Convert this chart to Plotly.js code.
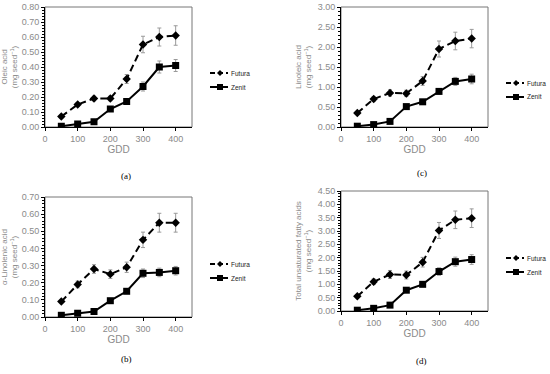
<!DOCTYPE html>
<html><head><meta charset="utf-8">
<script src="https://cdn.plot.ly/plotly-3.0.1.min.js"></script>
<style>html,body{margin:0;padding:0;background:#fff}#chart{width:550px;height:374px}</style>
</head><body><div id="chart"></div>
<script>
const gdd = [50, 100, 150, 200, 250, 300, 350, 400];
const xTicks = [0, 100, 200, 300, 400];

// (a) Oleic acid
const oleicFutura = [0.07, 0.15, 0.19, 0.19, 0.32, 0.55, 0.60, 0.61];
const oleicFuturaErr = [0.01, 0.012, 0.015, 0.015, 0.03, 0.055, 0.06, 0.065];
const oleicZenit = [0.005, 0.02, 0.035, 0.12, 0.17, 0.27, 0.40, 0.41];
const oleicZenitErr = [0.004, 0.005, 0.006, 0.01, 0.012, 0.03, 0.04, 0.04];

// (c) Linoleic acid
const linoleicFutura = [0.35, 0.70, 0.85, 0.84, 1.15, 1.95, 2.15, 2.21];
const linoleicFuturaErr = [0.03, 0.06, 0.08, 0.08, 0.11, 0.20, 0.22, 0.23];
const linoleicZenit = [0.02, 0.06, 0.14, 0.51, 0.63, 0.89, 1.14, 1.20];
const linoleicZenitErr = [0.01, 0.01, 0.02, 0.04, 0.05, 0.07, 0.10, 0.12];

// (b) alpha-Linolenic acid
const linolenicFutura = [0.09, 0.19, 0.28, 0.25, 0.29, 0.45, 0.55, 0.55];
const linolenicFuturaErr = [0.005, 0.02, 0.025, 0.025, 0.03, 0.045, 0.055, 0.055];
const linolenicZenit = [0.01, 0.022, 0.032, 0.095, 0.15, 0.255, 0.26, 0.27];
const linolenicZenitErr = [0.003, 0.005, 0.005, 0.008, 0.01, 0.025, 0.025, 0.025];

// (d) Total unsaturated fatty acids
const totalFutura = [0.55, 1.10, 1.37, 1.35, 1.83, 3.02, 3.42, 3.48];
const totalFuturaErr = [0.05, 0.10, 0.15, 0.15, 0.18, 0.30, 0.33, 0.35];
const totalZenit = [0.03, 0.10, 0.22, 0.78, 1.00, 1.48, 1.85, 1.93];
const totalZenitErr = [0.02, 0.02, 0.03, 0.06, 0.06, 0.14, 0.17, 0.18];

const seriesNames = ['Futura', 'Zenit'];
const panelLabels = ['(a)', '(c)', '(b)', '(d)'];
const yTitles = ['Oleic acid<br>(mg seed<sup>−1</sup>)', 'Linoleic acid<br>(mg seed<sup>−1</sup>)',
  'α-Linolenic acid<br>(mg seed<sup>−1</sup>)', 'Total unsaturated fatty acids<br>(mg seed<sup>−1</sup>)'];

const W = 550, H = 374;
const px = v => v / W, py = v => 1 - v / H;

// panel geometry in pixels: [left, right, top, bottom]
const panels = [
  {box: [45, 192, 7, 127], yr: [0, 0.8], dt: 0.1, mdt: 0.02, data: [oleicFutura, oleicFuturaErr, oleicZenit, oleicZenitErr],
   leg: [210, 73], lab: [126, 176]},
  {box: [341, 488, 7, 127], yr: [0, 3], dt: 0.5, mdt: 0.1, data: [linoleicFutura, linoleicFuturaErr, linoleicZenit, linoleicZenitErr],
   leg: [506, 83], lab: [422, 173]},
  {box: [45, 192, 197, 317], yr: [0, 0.7], dt: 0.1, mdt: 0.02, data: [linolenicFutura, linolenicFuturaErr, linolenicZenit, linolenicZenitErr],
   leg: [210, 264], lab: [126, 359]},
  {box: [341, 488, 191, 311], yr: [0, 4.5], dt: 0.5, mdt: 0.1, data: [totalFutura, totalFuturaErr, totalZenit, totalZenitErr],
   leg: [506, 258], lab: [422, 361]}
];

const traces = [];
const layout = {
  width: W, height: H, margin: {l: 0, r: 0, t: 0, b: 0},
  paper_bgcolor: '#fff', plot_bgcolor: '#fff', showlegend: false,
  font: {family: 'Liberation Sans, Arial, sans-serif', color: '#8a8a8a'},
  shapes: [], annotations: []
};
const tickFont = {size: 9, color: '#8a8a8a'};

panels.forEach((p, i) => {
  const n = i + 1;
  const xa = 'x' + (n === 1 ? '' : n), ya = 'y' + (n === 1 ? '' : n);
  const [fut, futErr, zen, zenErr] = p.data;
  traces.push({
    x: gdd, y: fut, xaxis: xa, yaxis: ya, name: seriesNames[0], type: 'scatter', mode: 'lines+markers',
    line: {color: '#000', width: 2, dash: '7px,4px'},
    marker: {symbol: 'diamond', size: 6.5, color: '#000'},
    error_y: {type: 'data', array: futErr, visible: true, color: '#9a9a9a', thickness: 1, width: 2}
  });
  traces.push({
    x: gdd, y: zen, xaxis: xa, yaxis: ya, name: seriesNames[1], type: 'scatter', mode: 'lines+markers',
    line: {color: '#000', width: 2},
    marker: {symbol: 'square', size: 7, color: '#000'},
    error_y: {type: 'data', array: zenErr, visible: true, color: '#9a9a9a', thickness: 1, width: 2}
  });
  const [l, r, t, b] = p.box;
  layout['xaxis' + (n === 1 ? '' : n)] = {
    domain: [px(l), px(r)], anchor: ya, range: [0, 450], tickvals: xTicks, showgrid: false, zeroline: false,
    showline: true, linecolor: '#000', linewidth: 1, ticks: 'outside', ticklen: 3, tickcolor: '#000',
    tickfont: tickFont, title: {text: 'GDD', font: {size: 10, color: '#8a8a8a'}, standoff: 2}
  };
  layout['yaxis' + (n === 1 ? '' : n)] = {
    domain: [py(b), py(t)], anchor: xa, range: p.yr, dtick: p.dt, tickformat: '.2f', showgrid: false, zeroline: false,
    showline: true, linecolor: '#000', linewidth: 1, ticks: 'outside', ticklen: 3, tickcolor: '#000',
    minor: {dtick: p.mdt, ticks: 'outside', ticklen: 2, tickcolor: '#000', showgrid: false},
    tickfont: tickFont, title: {text: yTitles[i], font: {size: 8, color: '#8a8a8a'}, standoff: 4}
  };
  // plot frame
  layout.shapes.push({type: 'rect', xref: 'paper', yref: 'paper', x0: px(l), x1: px(r), y0: py(b), y1: py(t),
    line: {color: '#777', width: 1}, layer: 'below'});
  // legend samples
  const [lx, ly] = p.leg;
  layout.shapes.push({type: 'line', xref: 'paper', yref: 'paper', x0: px(lx), x1: px(lx + 18), y0: py(ly), y1: py(ly),
    line: {color: '#000', width: 2, dash: '5px,3px'}});
  layout.shapes.push({type: 'path', xref: 'paper', yref: 'paper',
    path: `M${px(lx + 10)},${py(ly - 3)} L${px(lx + 13)},${py(ly)} L${px(lx + 10)},${py(ly + 3)} L${px(lx + 7)},${py(ly)} Z`,
    fillcolor: '#000', line: {color: '#000', width: 0}});
  layout.shapes.push({type: 'line', xref: 'paper', yref: 'paper', x0: px(lx), x1: px(lx + 18), y0: py(ly + 14), y1: py(ly + 14),
    line: {color: '#000', width: 2}});
  layout.shapes.push({type: 'rect', xref: 'paper', yref: 'paper', x0: px(lx + 7), x1: px(lx + 13), y0: py(ly + 17), y1: py(ly + 11),
    fillcolor: '#000', line: {color: '#000', width: 0}});
  layout.annotations.push({xref: 'paper', yref: 'paper', x: px(lx + 19), y: py(ly), xanchor: 'left', yanchor: 'middle',
    text: seriesNames[0], showarrow: false, font: {size: 6.5, color: '#222'}});
  layout.annotations.push({xref: 'paper', yref: 'paper', x: px(lx + 19), y: py(ly + 14), xanchor: 'left', yanchor: 'middle',
    text: seriesNames[1], showarrow: false, font: {size: 6.5, color: '#222'}});
  // panel label
  layout.annotations.push({xref: 'paper', yref: 'paper', x: px(p.lab[0]), y: py(p.lab[1]), xanchor: 'center', yanchor: 'middle',
    text: panelLabels[i], showarrow: false, font: {family: 'Liberation Serif, Times New Roman, serif', size: 9, color: '#000'}});
});

Plotly.newPlot('chart', traces, layout, {staticPlot: true, displayModeBar: false});
</script>
</body></html>
